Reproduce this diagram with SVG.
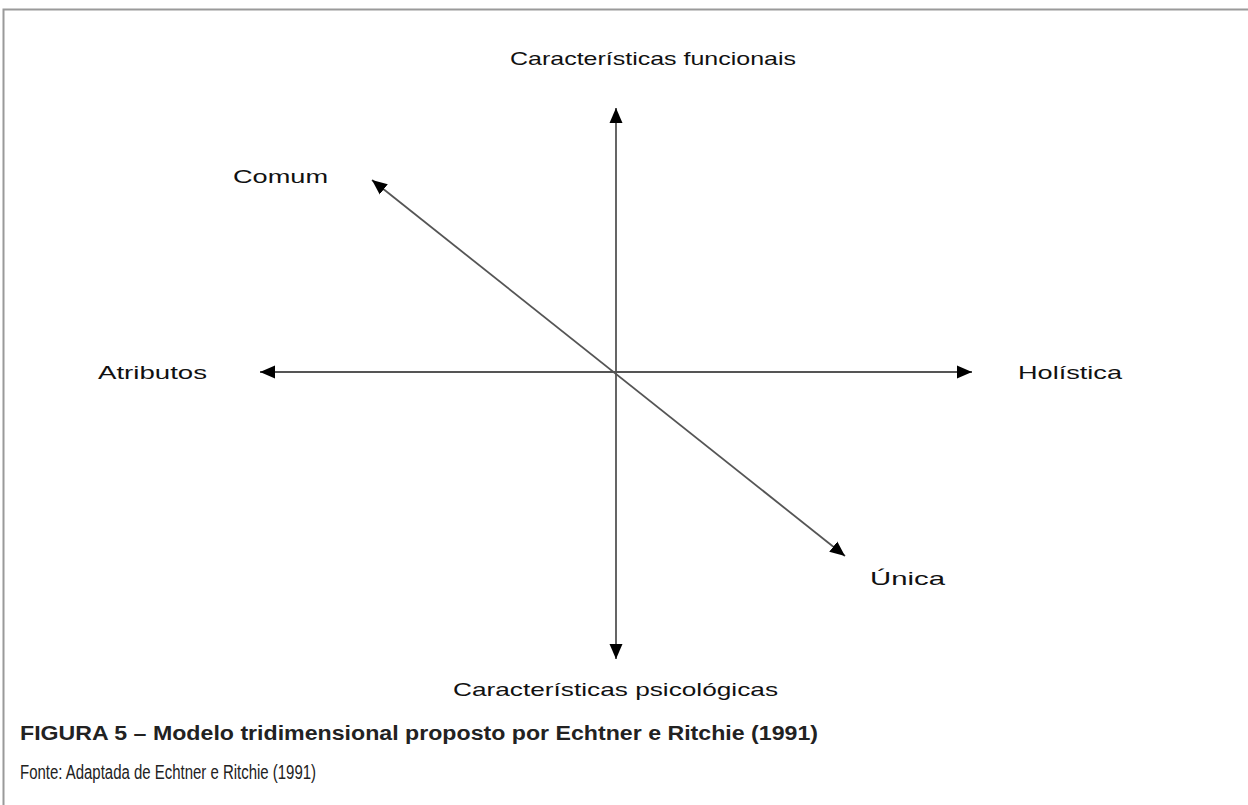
<svg xmlns="http://www.w3.org/2000/svg" width="1248" height="805" viewBox="0 0 1248 805">
<style>
.lbl{font-family:"Liberation Sans",Arial,sans-serif;font-size:19px;fill:#111}
.cap{font-family:"Liberation Sans",Arial,sans-serif;font-size:20px;fill:#222}
.axis{stroke:#555;stroke-width:1.8;fill:none;marker-start:url(#ah);marker-end:url(#ah)}
</style>
<defs>
<marker id="ah" markerUnits="userSpaceOnUse" markerWidth="16" markerHeight="14" refX="15" refY="6.5" orient="auto-start-reverse" viewBox="0 0 16 13">
<path d="M0,0 L15,6.5 L0,13 z" fill="#000"/>
</marker>
</defs>
<rect width="1248" height="805" fill="#fff"/>
<g id="frame">
<path d="M3.5,805 L3.5,9.5 L1248,9.5" stroke="#9a9a9a" stroke-width="2" fill="none"/>
</g>
<g id="connectors">
<line class="axis" x1="616" y1="659" x2="616" y2="108"/>
<line class="axis" x1="260" y1="372" x2="972" y2="372"/>
<line class="axis" x1="372" y1="180" x2="845" y2="556"/>
</g>
<g id="n-funcionais"><text class="lbl" x="510" y="65" textLength="286" lengthAdjust="spacingAndGlyphs">Características funcionais</text></g>
<g id="n-comum"><text class="lbl" x="233" y="183" textLength="95" lengthAdjust="spacingAndGlyphs">Comum</text></g>
<g id="n-atributos"><text class="lbl" x="98" y="379" textLength="109" lengthAdjust="spacingAndGlyphs">Atributos</text></g>
<g id="n-holistica"><text class="lbl" x="1018" y="379" textLength="104" lengthAdjust="spacingAndGlyphs">Holística</text></g>
<g id="n-unica"><text class="lbl" x="870" y="585" textLength="75" lengthAdjust="spacingAndGlyphs">Única</text></g>
<g id="n-psicologicas"><text class="lbl" x="453" y="696" textLength="325" lengthAdjust="spacingAndGlyphs">Características psicológicas</text></g>
<g id="caption">
<text class="cap" x="20" y="740" font-weight="bold" textLength="798" lengthAdjust="spacingAndGlyphs">FIGURA 5 – Modelo tridimensional proposto por Echtner e Ritchie (1991)</text>
<text class="cap" x="20" y="779" font-size="19" textLength="296" lengthAdjust="spacingAndGlyphs">Fonte: Adaptada de Echtner e Ritchie (1991)</text>
</g>
</svg>
